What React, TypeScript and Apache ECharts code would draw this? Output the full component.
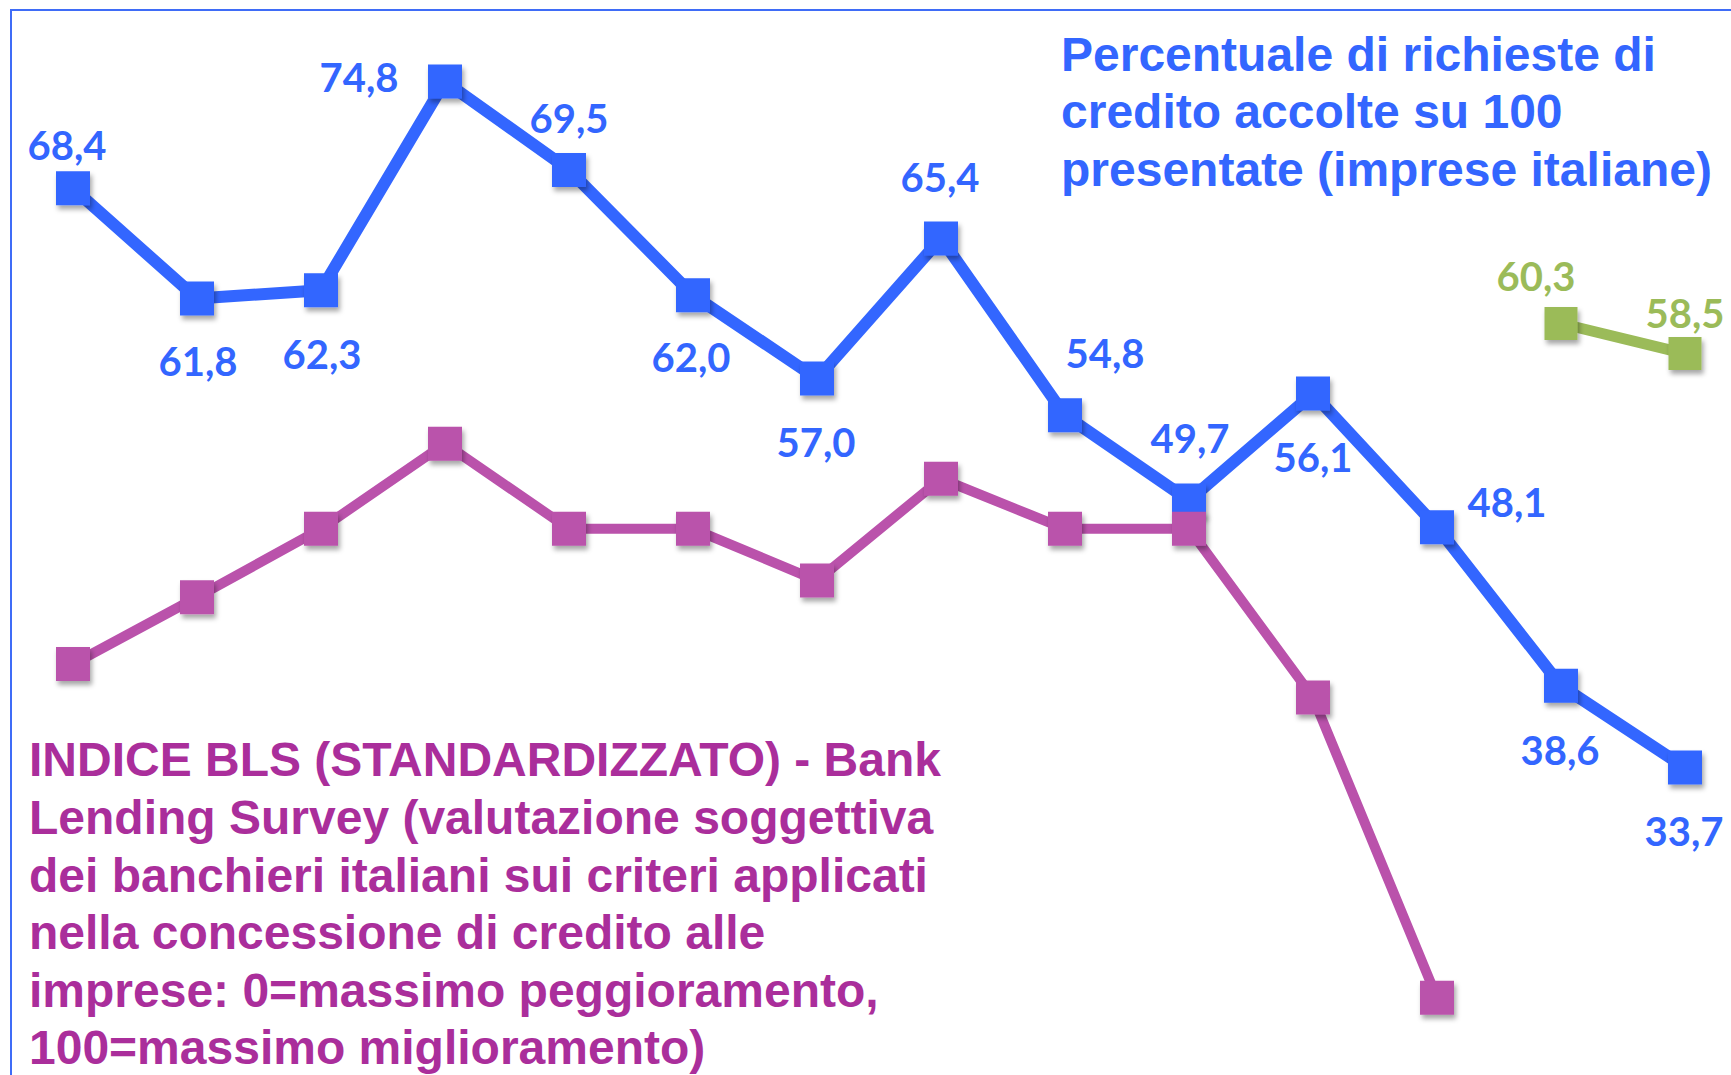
import React, { useEffect, useRef } from "react";
import * as echarts from "echarts";

// ---- data ----
const categories = ["1", "2", "3", "4", "5", "6", "7", "8", "9", "10", "11", "12", "13", "14"];
const richiesteAccolte = [68.4, 61.8, 62.3, 74.8, 69.5, 62.0, 57.0, 65.4, 54.8, 49.7, 56.1, 48.1, 38.6, 33.7];
const indiceBLS: (number | null)[] = [39.9, 43.9, 48.0, 53.1, 48.0, 48.0, 44.9, 51.0, 48.0, 48.0, 37.9, 19.9, null, null];
const nuovaSerie: (number | null)[] = [null, null, null, null, null, null, null, null, null, null, null, null, 60.3, 58.5];

const blueTitle = "Percentuale di richieste di\ncredito accolte su 100\npresentate (imprese italiane)";
const magentaTitle =
  "INDICE BLS (STANDARDIZZATO) - Bank\nLending Survey (valutazione soggettiva\ndei banchieri italiani sui criteri applicati\nnella concessione di credito alle\nimprese: 0=massimo peggioramento,\n100=massimo miglioramento)";

// label placement (style, relative to each marker centre)
const blueLabelOffsets: [number, number][] = [
  [-6, -43], [1, 63], [1, 64], [-86, -5], [0, -52], [-2, 62], [-1, 63],
  [-1, -61], [40, -62], [1, -62], [0, 63], [70, -25], [-1, 64], [-1, 64],
];
const greenLabelOffsets: [number, number][] = [[-25, -48], [0, -41]];

const BLUE = "#3366FF";
const MAGENTA = "#BA52AB";
const MAGENTA_TEXT = "#AA2E9B";
const GREEN = "#9BBB59";

const fmt = (v: number) => v.toFixed(1).replace(".", ",");

export default function App() {
  const ref = useRef<HTMLDivElement>(null);
  useEffect(() => {
    if (!ref.current) return;
    const chart = echarts.init(ref.current, undefined, { renderer: "svg" });
    const shadow = {
      shadowColor: "rgba(0,0,0,0.35)",
      shadowBlur: 5,
      shadowOffsetX: 2,
      shadowOffsetY: 4,
    };
    const labelFont = {
      fontFamily: "Lato, 'Open Sans', sans-serif",
      fontWeight: "bold" as const,
      fontSize: 40,
    };
    const blueData = richiesteAccolte.map((v, i) => ({
      value: v,
      label: { offset: blueLabelOffsets[i] },
    }));
    let g = 0;
    const greenData = nuovaSerie.map((v) => {
      if (v === null) return "-";
      const o = greenLabelOffsets[g++];
      return { value: v, label: { offset: o } };
    });
    const magentaData = indiceBLS.map((v) => (v === null ? "-" : v));

    chart.setOption({
      animation: false,
      backgroundColor: "#ffffff",
      grid: { left: 73, right: 46, top: 61.5, bottom: 45.5, containLabel: false },
      xAxis: {
        type: "category",
        data: categories,
        boundaryGap: false,
        show: false,
      },
      yAxis: {
        type: "value",
        min: 18,
        max: 76,
        show: false,
        splitLine: { show: false },
      },
      graphic: [
        {
          type: "rect",
          shape: { x: 11, y: 10, width: 1800, height: 1200 },
          style: { fill: "none", stroke: "#3F6CF7", lineWidth: 2 },
          silent: true,
          z: -10,
        },
        {
          type: "text",
          x: 1061,
          y: 25.5,
          style: {
            text: blueTitle,
            fill: BLUE,
            font: "bold 48px 'Liberation Sans', Arial, sans-serif",
            lineHeight: 57.5,
            verticalAlign: "top",
            align: "left",
          },
        },
        {
          type: "text",
          x: 29,
          y: 731,
          style: {
            text: magentaTitle,
            fill: MAGENTA_TEXT,
            font: "bold 48px 'Liberation Sans', Arial, sans-serif",
            lineHeight: 57.6,
            verticalAlign: "top",
            align: "left",
          },
        },
      ],
      series: [
        {
          name: "Percentuale di richieste di credito accolte",
          type: "line",
          data: blueData,
          symbol: "rect",
          symbolSize: 34,
          clip: false,
          lineStyle: { color: BLUE, width: 12 },
          itemStyle: { color: BLUE, ...shadow },
          label: {
            show: true,
            position: "inside",
            color: BLUE,
            ...labelFont,
            formatter: (p: any) => fmt(p.value),
          },
        },
        {
          name: "Indice BLS",
          type: "line",
          data: magentaData,
          symbol: "rect",
          symbolSize: 34,
          clip: false,
          lineStyle: { color: MAGENTA, width: 10 },
          itemStyle: { color: MAGENTA, ...shadow },
          label: { show: false },
        },
        {
          name: "Nuova serie",
          type: "line",
          data: greenData,
          symbol: "rect",
          symbolSize: 33,
          clip: false,
          lineStyle: { color: GREEN, width: 11 },
          itemStyle: { color: GREEN, ...shadow },
          label: {
            show: true,
            position: "inside",
            color: GREEN,
            ...labelFont,
            formatter: (p: any) => fmt(p.value),
          },
        },
      ],
    });
    return () => chart.dispose();
  }, []);
  return (
    <div
      ref={ref}
      style={{ position: "fixed", left: 0, top: 0, width: 1731, height: 1075, background: "#fff" }}
    />
  );
}
